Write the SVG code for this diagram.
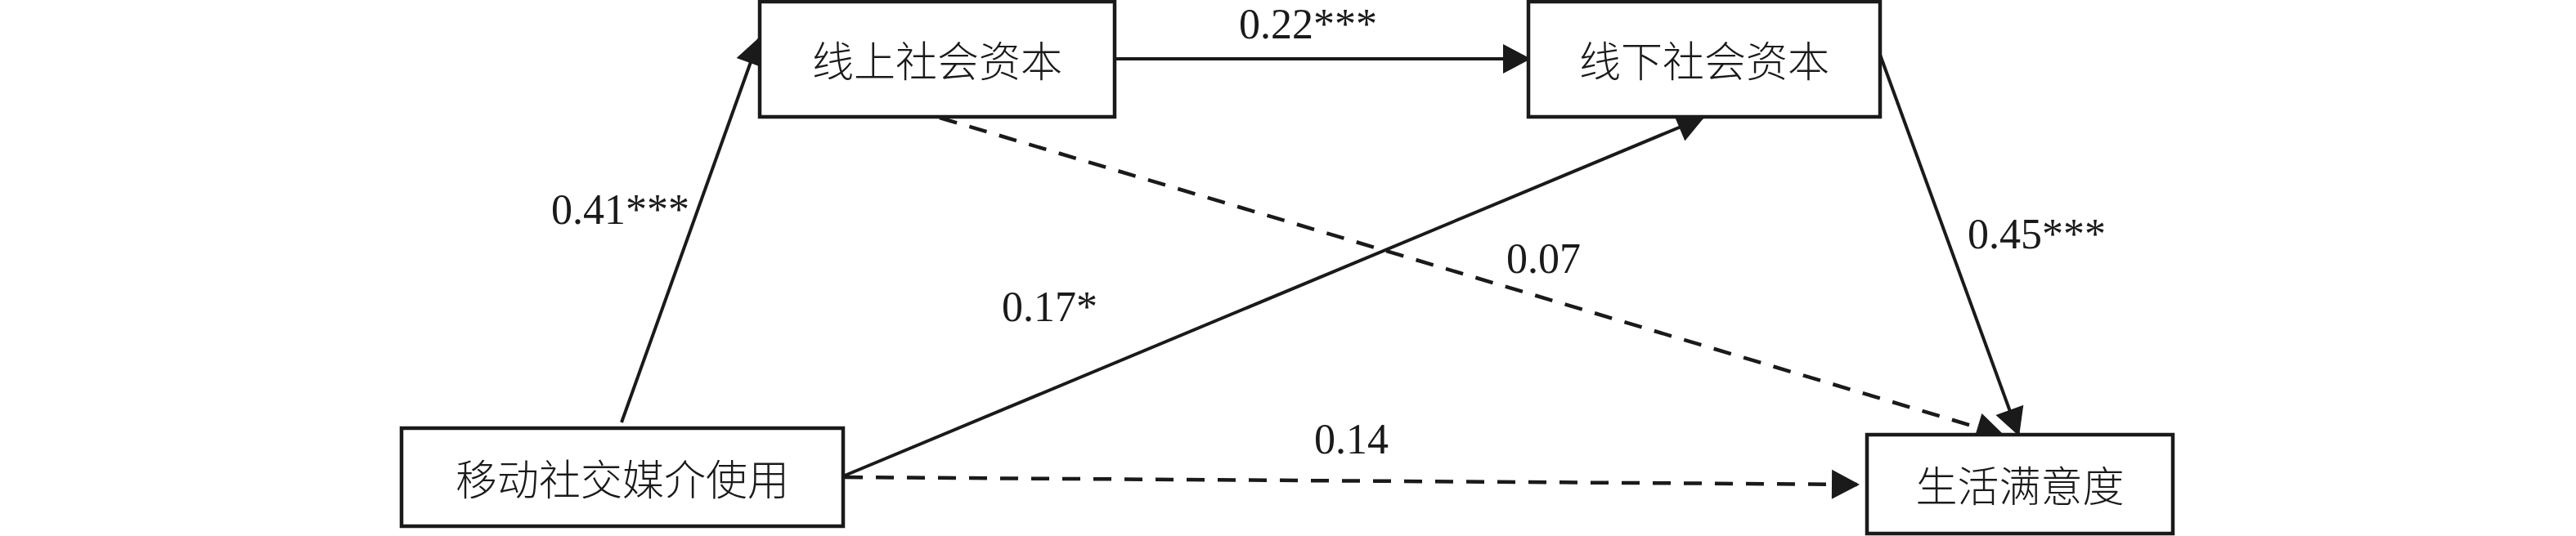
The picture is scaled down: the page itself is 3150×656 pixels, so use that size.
<svg xmlns="http://www.w3.org/2000/svg" width="3150" height="656" viewBox="0 0 3150 656">
<style>
.box{fill:#fff;stroke:#1a1a1a;stroke-width:4.5}
.nt{font-family:"Noto Sans CJK SC","Liberation Serif",serif;font-size:51px;font-weight:300;fill:#1a1a1a;text-anchor:middle;dominant-baseline:central}
.lb{font-family:"Liberation Serif",serif;font-size:52px;fill:#1a1a1a}
.ln{fill:none;stroke:#1a1a1a;stroke-width:4;marker-end:url(#ah)}
.dash{stroke-width:4.5;stroke-dasharray:22 16}
</style>
<defs>
<marker id="ah" markerUnits="userSpaceOnUse" markerWidth="36" markerHeight="38" refX="31" refY="18" orient="auto" overflow="visible">
<path d="M0,0 L34,18 L0,36 Z" fill="#1a1a1a"/>
</marker>
</defs>
<rect width="3150" height="656" fill="#fff"/>
<g id="connectors">
<line class="ln" x1="760" y1="517" x2="928" y2="48"/>
<line class="ln" x1="1363" y1="72" x2="1869" y2="72"/>
<line class="ln" x1="1033" y1="582" x2="2082" y2="144"/>
<line class="ln dash" x1="1149" y1="144" x2="2448" y2="532"/>
<line class="ln" x1="2299" y1="67" x2="2468" y2="531"/>
<line class="ln dash" x1="1033" y1="584" x2="2271" y2="593"/>
</g>
<g id="node-online">
<rect class="box" x="929" y="2" width="434" height="141"/>
<text class="nt" x="1146" y="72">线上社会资本</text>
</g>
<g id="node-offline">
<rect class="box" x="1869" y="2" width="430" height="141"/>
<text class="nt" x="2084" y="72">线下社会资本</text>
</g>
<g id="node-mobile">
<rect class="box" x="491" y="524" width="540" height="120"/>
<text class="nt" x="761" y="584">移动社交媒介使用</text>
</g>
<g id="node-life">
<rect class="box" x="2283" y="532" width="374" height="121"/>
<text class="nt" x="2470" y="592">生活满意度</text>
</g>
<g id="labels">
<text class="lb" x="1515" y="47">0.22***</text>
<text class="lb" x="674" y="274">0.41***</text>
<text class="lb" x="1225" y="393">0.17*</text>
<text class="lb" x="1842" y="334">0.07</text>
<text class="lb" x="2406" y="304">0.45***</text>
<text class="lb" x="1607" y="555">0.14</text>
</g>
</svg>
